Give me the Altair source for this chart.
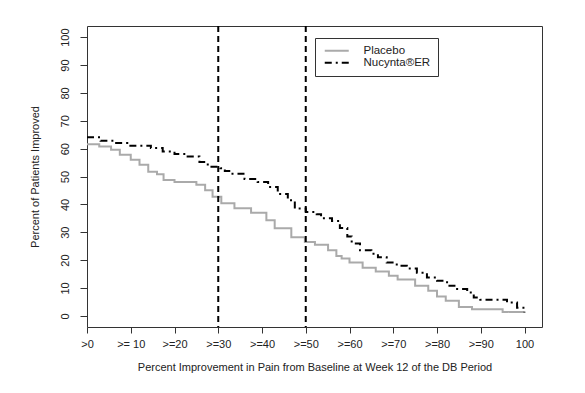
import altair as alt
import pandas as pd

# Placebo step curve (x = % improvement threshold, y = % of patients)
placebo_x = [0, 2.8, 5.5, 7.5, 10, 12, 14, 16, 17.5, 20, 25, 27, 28.7, 30.7, 33.7,
             37.5, 41, 42.9, 46.7, 49.8, 52.1, 55.1, 57, 58.2, 60, 63, 66, 69, 71,
             75, 78, 80, 82, 85, 88, 95, 100]
placebo_y = [61.6, 60.8, 59.6, 57.8, 56, 54.2, 51.7, 50.8, 48.7, 48, 47, 45.1, 42.7,
             40.4, 38.6, 37, 34.3, 31.4, 28.2, 26.5, 25.5, 23.5, 21.5, 20.6, 19.1,
             17.3, 15.9, 14.4, 13, 10.8, 9, 6.9, 5.4, 3.2, 2.4, 1.4, 1.4]

# Nucynta ER step curve
nucynta_x = [0, 3.1, 6.2, 9.2, 14.6, 17.3, 20, 23, 25.7, 27.6, 30.5, 31.5, 33, 36,
             39, 41.4, 43.6, 45.9, 47.5, 50, 52.5, 53.5, 56, 57.8, 59.5, 60.5, 62.4,
             65, 66.5, 68.5, 70.8, 73.1, 75.4, 77.7, 80, 82.3, 84.6, 86.9, 88.4,
             89.9, 96, 98.3, 100]
nucynta_y = [64.1, 62.8, 62.0, 61.0, 60.2, 59.0, 58.1, 57.2, 55.2, 53.5, 53.0, 52,
             51, 49.1, 48, 46.2, 43.7, 41.5, 38.5, 37.3, 36.5, 35, 34, 31.5, 28.5,
             26, 23.5, 22.3, 21, 19.1, 18, 17, 15.5, 13.8, 12.6, 10.8, 9.6, 8.4,
             6.6, 5.8, 4.8, 2.9, 1.2]

series_names = ["Placebo", "Nucynta®ER"]
cutoffs = [30, 50]

x_tick_values = [0, 10, 20, 30, 40, 50, 60, 70, 80, 90, 100]
x_tick_labels = [">0", ">= 10", ">=20", ">=30", ">=40", ">=50", ">=60", ">=70",
                 ">=80", ">=90", "100"]
y_tick_values = [0, 10, 20, 30, 40, 50, 60, 70, 80, 90, 100]

df = pd.concat([
    pd.DataFrame({"x": placebo_x, "y": placebo_y, "group": series_names[0], "order": range(len(placebo_x))}),
    pd.DataFrame({"x": nucynta_x, "y": nucynta_y, "group": series_names[1], "order": range(len(nucynta_x))}),
])
cut_df = pd.DataFrame({"x": cutoffs})

label_js = "[" + ",".join('"%s"' % s for s in x_tick_labels) + "]"

FONT = "Liberation Sans"
TXT = "#222222"

xscale = alt.Scale(domain=[0, 104], nice=False, zero=False)
yscale = alt.Scale(domain=[-4, 104], nice=False, zero=False)

lines = alt.Chart(df).mark_line(interpolate="step-after", strokeWidth=2).encode(
    x=alt.X("x:Q", scale=xscale,
            axis=alt.Axis(values=x_tick_values,
                          labelExpr=label_js + "[round(datum.value/10)]",
                          title="Percent Improvement in Pain from Baseline at Week 12 of the DB Period",
                          domain=False, grid=False, tickSize=6, tickColor="#333",
                          labelPadding=5, titlePadding=12, labelFlush=False)),
    y=alt.Y("y:Q", scale=yscale,
            axis=alt.Axis(values=y_tick_values, title="Percent of Patients Improved",
                          domain=False, grid=False, tickSize=7, tickColor="#333",
                          labelAngle=-90, labelAlign="center", labelBaseline="bottom",
                          labelPadding=10, titlePadding=19)),
    color=alt.Color("group:N",
                    scale=alt.Scale(domain=series_names, range=["#aaaaaa", "#000000"]),
                    legend=alt.Legend(title=None, orient="none", legendX=228, legendY=12,
                                      strokeColor="#333", fillColor="white",
                                      padding=7, symbolType="M-1,0H7", symbolSize=36,
                                      symbolStrokeWidth=2, labelFontSize=11.5,
                                      labelOffset=30, rowPadding=-1, labelLimit=0)),
    strokeDash=alt.StrokeDash("group:N",
                              scale=alt.Scale(domain=series_names, range=[[1, 0], [7, 4, 2, 4]]),
                              legend=None),
    order="order:Q",
)

rules = alt.Chart(cut_df).mark_rule(color="black", strokeWidth=2, strokeDash=[6, 4]).encode(
    x=alt.X("x:Q", scale=xscale)
)

chart = alt.layer(lines, rules).properties(
    width=455, height=301,
    autosize=alt.AutoSizeParams(type="none"),
    padding={"left": 79, "top": 18, "right": 30, "bottom": 50},
).configure_view(stroke="#333", strokeWidth=1).configure_axis(
    labelFont=FONT, titleFont=FONT, labelFontSize=11, titleFontSize=11,
    labelColor=TXT, titleColor=TXT, titleFontWeight="normal",
).configure_legend(labelFont=FONT, labelColor=TXT)

chart.save("out.html", embed_options={"renderer": "svg", "actions": False})
